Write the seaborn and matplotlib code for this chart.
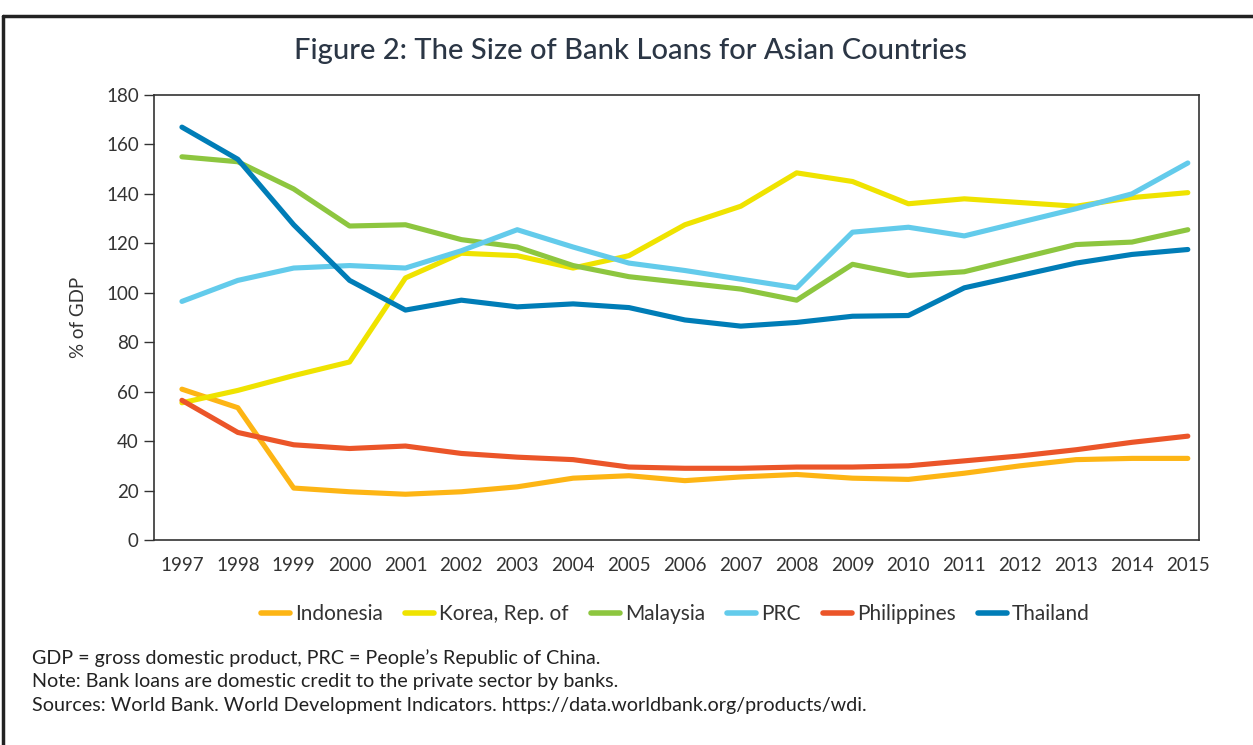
"""Figure 2: The Size of Bank Loans for Asian Countries"""
import pandas as pd
import numpy as np
import matplotlib.pyplot as plt
import seaborn as sns

# 数据（从图中读取，% of GDP）
years = list(range(1997, 2016))
countries = ['Indonesia', 'Korea, Rep. of', 'Malaysia', 'PRC', 'Philippines', 'Thailand']
colors = ['#FDB515', '#EFE300', '#8DC63F', '#63CBEB', '#EB5529', '#007DB7']

indonesia = [61, 53.5, 21, 19.5, 18.5, 19.5, 21.5, 25, 26, 24, 25.5, 26.5, 25, 24.5, 27, 30, 32.5, 33, 33]
korea = [55.5, 60.5, 66.5, 72, 106, 116, 115, 110, 115, 127.5, 135, 148.5, 145, 136, 138, 136.5, 135, 138.5, 140.5]
malaysia = [155, 153, 142, 127, 127.5, 121.5, 118.5, 111, 106.5, 104, 101.5, 97, 111.5, 107, 108.5, 114, 119.5, 120.5, 125.5]
prc = [96.5, 105, 110, 111, 110, 117, 125.5, 118.5, 112, 109, 105.5, 102, 124.5, 126.5, 123, 128.5, 134, 140, 152.5]
philippines = [56.5, 43.5, 38.5, 37, 38, 35, 33.5, 32.5, 29.5, 29, 29, 29.5, 29.5, 30, 32, 34, 36.5, 39.5, 42]
thailand = [167, 154, 127.5, 105, 93, 97, 94.3, 95.5, 94, 89, 86.5, 88, 90.5, 90.8, 102, 107, 112, 115.5, 117.5]

title = 'Figure 2: The Size of Bank Loans for Asian Countries'
notes = [
    'GDP = gross domestic product, PRC = People\u2019s Republic of China.',
    'Note: Bank loans are domestic credit to the private sector by banks.',
    'Sources: World Bank. World Development Indicators. https://data.worldbank.org/products/wdi.',
]

series = [indonesia, korea, malaysia, prc, philippines, thailand]
df = pd.concat(
    [pd.DataFrame({'year': years, 'value': vals, 'country': name}) for name, vals in zip(countries, series)],
    ignore_index=True,
)

sns.set_style('white')
plt.rcParams['font.family'] = ['Lato', 'DejaVu Sans']
text_color = '#333333'

fig = plt.figure(figsize=(12.53, 7.45), dpi=100)
ax = fig.add_axes([0.1229, 0.2752, 0.9569 - 0.1229, 0.8725 - 0.2752])

sns.lineplot(data=df, x='year', y='value', hue='country', hue_order=countries,
             palette=colors, linewidth=3.7, ax=ax, legend=True)
for line in ax.lines:
    line.set_solid_capstyle('round')

ax.set_xlim(1996.5, 2015.2)
ax.set_ylim(0, 180)
ax.set_xticks(years)
ax.set_yticks(np.arange(0, 181, 20))
ax.tick_params(axis='y', direction='out', length=7, width=1, color='#333333',
               labelsize=13.5, labelcolor=text_color, pad=4, left=True)
ax.tick_params(axis='x', length=0, labelsize=13.5, labelcolor=text_color, pad=12)
ax.set_xlabel('')
ax.set_ylabel('% of GDP', fontsize=13.5, color=text_color, labelpad=14)
for s in ax.spines.values():
    s.set_color('#333333')
    s.set_linewidth(1.2)

# 图例放到图下方
handles, labels = ax.get_legend_handles_labels()
ax.get_legend().remove()
for h in handles:
    h.set_linewidth(4)
    h.set_solid_capstyle('round')
fig.legend(handles, labels, loc='center', bbox_to_anchor=(0.539, 1 - 614 / 745), ncol=6,
           frameon=False, fontsize=15, handlelength=1.4, handletextpad=0.25,
           columnspacing=1.05, labelcolor=text_color)

fig.text(0.503, 1 - 51 / 745, title, ha='center', va='center', fontsize=21,
         fontweight='medium', color='#2b3645')

for i, note in enumerate(notes):
    fig.text(32 / 1253, 1 - (658 + 24 * i) / 745, note, ha='left', va='center',
             fontsize=14.2, color='#222222')

# 外框：左边和上边
fig.add_artist(plt.Line2D([0.002, 0.002], [0, 1 - 16 / 745], color='#222222', linewidth=2.5))
fig.add_artist(plt.Line2D([0.002, 1.0], [1 - 16 / 745, 1 - 16 / 745], color='#222222', linewidth=2.5))

fig.savefig('out.png', dpi=100)
